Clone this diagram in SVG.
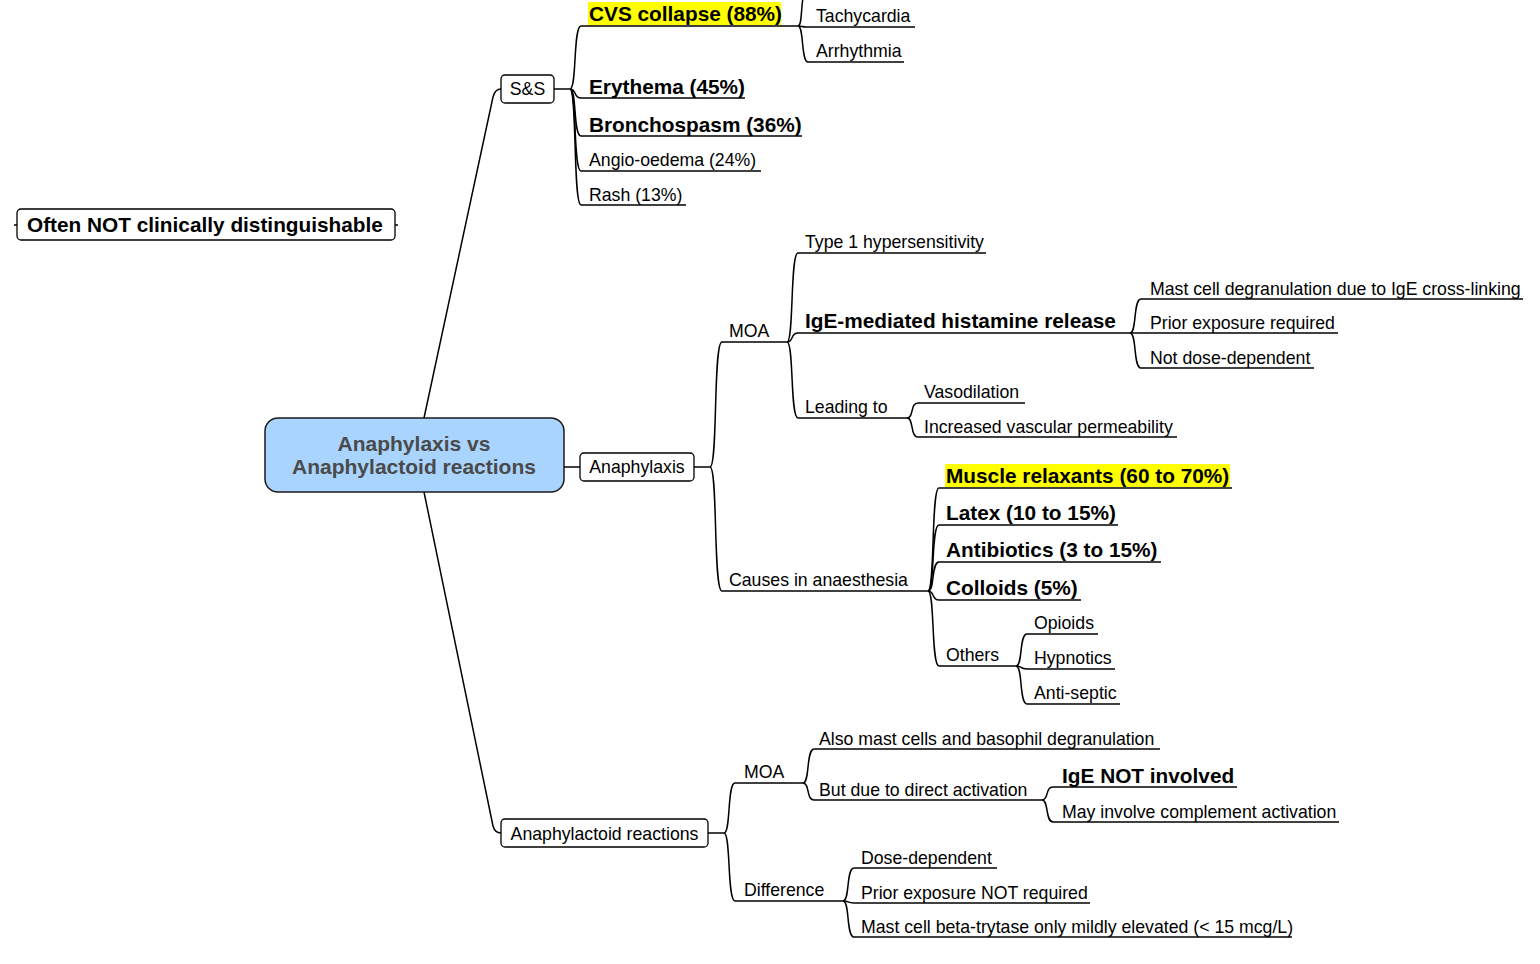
<svg xmlns="http://www.w3.org/2000/svg" width="1540" height="964" viewBox="0 0 1540 964">
<style>
  .n { font-family: "Liberation Sans", Arial, sans-serif; font-size: 17.7px; fill: #000; }
  .b { font-family: "Liberation Sans", Arial, sans-serif; font-size: 20.8px; font-weight: bold; fill: #000; }
  .root { font-family: "Liberation Sans", Arial, sans-serif; font-size: 21px; font-weight: bold; fill: #4a4a4a; text-anchor: middle; }
  .mid { text-anchor: middle; }
  .u { fill: none; stroke: #000; stroke-width: 1.5; }
  .c { fill: none; stroke: #000; stroke-width: 1.5; }
  .box { fill: #fff; stroke: #000; stroke-width: 1.3; }
  .hl { fill: #ffff00; }
</style>
<rect width="1540" height="964" fill="#fff"/>

<g id="connectors">
  <path class="c" d="M424,418 L493,97 Q495,89 501,89"/>
  <path class="c" d="M424,492 L493,826 Q495,833 501,833"/>
  <path class="c" d="M564,467 L580,467"/>
  <path class="c" d="M14,225 L17,225"/>
  <path class="c" d="M395,225 L398,225"/>
  <path class="c" d="M554,89 L570,89"/>
  <path class="c" d="M570,89 C577,89 573,26 581,26"/>
  <path class="c" d="M570,89 C577,89 573,98 581,98"/>
  <path class="c" d="M570,89 C577,89 573,136 581,136"/>
  <path class="c" d="M570,89 C577,89 573,171 581,171"/>
  <path class="c" d="M570,89 C577,89 573,205 581,205"/>
  <path class="c" d="M798,26 C802,26 801,8 803,-2"/>
  <path class="c" d="M798,26 C802,26 802,27 806,27"/>
  <path class="c" d="M798,26 C804,26 801,62 808,62"/>
  <path class="c" d="M694,467 L710,467"/>
  <path class="c" d="M710,467 C718,467 713,342 722,342"/>
  <path class="c" d="M710,467 C718,467 713,591 722,591"/>
  <path class="c" d="M787,342 C794,342 790,253 798,253"/>
  <path class="c" d="M787,342 C794,342 790,333 798,333"/>
  <path class="c" d="M787,342 C794,342 790,418 798,418"/>
  <path class="c" d="M1130,333 C1137,333 1133,299 1141,299"/>
  <path class="c" d="M1130,333 C1137,333 1133,333 1141,333"/>
  <path class="c" d="M1130,333 C1137,333 1133,368 1141,368"/>
  <path class="c" d="M907,418 C914,418 910,403 918,403"/>
  <path class="c" d="M907,418 C914,418 910,437 918,437"/>
  <path class="c" d="M928,591 C935,591 931,488 939,488"/>
  <path class="c" d="M928,591 C935,591 931,525 939,525"/>
  <path class="c" d="M928,591 C935,591 931,562 939,562"/>
  <path class="c" d="M928,591 C935,591 931,600 939,600"/>
  <path class="c" d="M928,591 C935,591 931,666 939,666"/>
  <path class="c" d="M1016,666 C1023,666 1019,634 1027,634"/>
  <path class="c" d="M1016,666 C1023,666 1019,669 1027,669"/>
  <path class="c" d="M1016,666 C1023,666 1019,704 1027,704"/>
  <path class="c" d="M708,833 L724,833"/>
  <path class="c" d="M724,833 C731,833 727,783 735,783"/>
  <path class="c" d="M724,833 C731,833 727,901 735,901"/>
  <path class="c" d="M803,783 C810,783 806,749 814,749"/>
  <path class="c" d="M803,783 C810,783 806,800 814,800"/>
  <path class="c" d="M1042,800 C1049,800 1045,787 1053,787"/>
  <path class="c" d="M1042,800 C1049,800 1045,822 1053,822"/>
  <path class="c" d="M843,901 C850,901 846,868 854,868"/>
  <path class="c" d="M843,901 C850,901 846,903 854,903"/>
  <path class="c" d="M843,901 C850,901 846,937 854,937"/>
</g>

<g id="root">
  <rect x="265" y="418" width="299" height="74" rx="13" fill="#a8d4fd" stroke="#1a1a1a" stroke-width="1.5"/>
  <text class="root" x="414" y="451">Anaphylaxis vs</text>
  <text class="root" x="414" y="474">Anaphylactoid reactions</text>
</g>

<g id="often-not">
  <rect class="box" x="17" y="209" width="378" height="31" rx="4"/>
  <text class="b" x="27" y="232">Often NOT clinically distinguishable</text>
</g>

<g id="ss">
  <rect class="box" x="501" y="75" width="53" height="28" rx="4"/>
  <text class="n mid" x="527.5" y="95">S&amp;S</text>
</g>
<g id="cvs">
  <rect class="hl" x="588" y="2" width="193" height="23"/>
  <path class="u" d="M581,26 L798,26"/>
  <text class="b" x="589" y="21">CVS collapse (88%)</text>
</g>
<g id="tachycardia">
  <path class="u" d="M806,27 L915,27"/>
  <text class="n" x="816" y="22">Tachycardia</text>
</g>
<g id="arrhythmia">
  <path class="u" d="M808,62 L904,62"/>
  <text class="n" x="816" y="57">Arrhythmia</text>
</g>
<g id="erythema">
  <path class="u" d="M581,98 L745,98"/>
  <text class="b" x="589" y="94">Erythema (45%)</text>
</g>
<g id="bronchospasm">
  <path class="u" d="M581,136 L802,136"/>
  <text class="b" x="589" y="132">Bronchospasm (36%)</text>
</g>
<g id="angio">
  <path class="u" d="M581,171 L761,171"/>
  <text class="n" x="589" y="166">Angio-oedema (24%)</text>
</g>
<g id="rash">
  <path class="u" d="M581,205 L686,205"/>
  <text class="n" x="589" y="201">Rash (13%)</text>
</g>

<g id="anaphylaxis">
  <rect class="box" x="580" y="453" width="114" height="28" rx="4"/>
  <text class="n mid" x="637" y="473">Anaphylaxis</text>
</g>
<g id="moa1">
  <path class="u" d="M722,342 L787,342"/>
  <text class="n" x="729" y="337">MOA</text>
</g>
<g id="type1">
  <path class="u" d="M798,253 L986,253"/>
  <text class="n" x="805" y="248">Type 1 hypersensitivity</text>
</g>
<g id="ige-mediated">
  <path class="u" d="M798,333 L1130,333"/>
  <text class="b" x="805" y="328">IgE-mediated histamine release</text>
</g>
<g id="mast-degran">
  <path class="u" d="M1141,299 L1523,299"/>
  <text class="n" x="1150" y="295">Mast cell degranulation due to IgE cross-linking</text>
</g>
<g id="prior-req">
  <path class="u" d="M1141,333 L1338,333"/>
  <text class="n" x="1150" y="329">Prior exposure required</text>
</g>
<g id="not-dose">
  <path class="u" d="M1141,368 L1314,368"/>
  <text class="n" x="1150" y="364">Not dose-dependent</text>
</g>
<g id="leading-to">
  <path class="u" d="M798,418 L907,418"/>
  <text class="n" x="805" y="413">Leading to</text>
</g>
<g id="vasodilation">
  <path class="u" d="M918,403 L1025,403"/>
  <text class="n" x="924" y="398">Vasodilation</text>
</g>
<g id="permeability">
  <path class="u" d="M918,437 L1177,437"/>
  <text class="n" x="924" y="433">Increased vascular permeability</text>
</g>
<g id="causes">
  <path class="u" d="M722,591 L928,591"/>
  <text class="n" x="729" y="586">Causes in anaesthesia</text>
</g>
<g id="muscle-relaxants">
  <rect class="hl" x="945" y="464" width="285" height="23"/>
  <path class="u" d="M939,488 L1232,488"/>
  <text class="b" x="946" y="483">Muscle relaxants (60 to 70%)</text>
</g>
<g id="latex">
  <path class="u" d="M939,525 L1118,525"/>
  <text class="b" x="946" y="520">Latex (10 to 15%)</text>
</g>
<g id="antibiotics">
  <path class="u" d="M939,562 L1161,562"/>
  <text class="b" x="946" y="557">Antibiotics (3 to 15%)</text>
</g>
<g id="colloids">
  <path class="u" d="M939,600 L1081,600"/>
  <text class="b" x="946" y="595">Colloids (5%)</text>
</g>
<g id="others">
  <path class="u" d="M939,666 L1016,666"/>
  <text class="n" x="946" y="661">Others</text>
</g>
<g id="opioids">
  <path class="u" d="M1027,634 L1098,634"/>
  <text class="n" x="1034" y="629">Opioids</text>
</g>
<g id="hypnotics">
  <path class="u" d="M1027,669 L1115,669"/>
  <text class="n" x="1034" y="664">Hypnotics</text>
</g>
<g id="antiseptic">
  <path class="u" d="M1027,704 L1120,704"/>
  <text class="n" x="1034" y="699">Anti-septic</text>
</g>

<g id="anaphylactoid">
  <rect class="box" x="501" y="819" width="207" height="28" rx="4"/>
  <text class="n mid" x="604.5" y="840">Anaphylactoid reactions</text>
</g>
<g id="moa2">
  <path class="u" d="M735,783 L803,783"/>
  <text class="n" x="744" y="778">MOA</text>
</g>
<g id="also-mast">
  <path class="u" d="M814,749 L1160,749"/>
  <text class="n" x="819" y="745">Also mast cells and basophil degranulation</text>
</g>
<g id="but-due">
  <path class="u" d="M814,800 L1042,800"/>
  <text class="n" x="819" y="796">But due to direct activation</text>
</g>
<g id="ige-not">
  <path class="u" d="M1053,787 L1237,787"/>
  <text class="b" x="1062" y="783">IgE NOT involved</text>
</g>
<g id="complement">
  <path class="u" d="M1053,822 L1339,822"/>
  <text class="n" x="1062" y="818">May involve complement activation</text>
</g>
<g id="difference">
  <path class="u" d="M735,901 L843,901"/>
  <text class="n" x="744" y="896">Difference</text>
</g>
<g id="dose-dep">
  <path class="u" d="M854,868 L997,868"/>
  <text class="n" x="861" y="864">Dose-dependent</text>
</g>
<g id="prior-not">
  <path class="u" d="M854,903 L1090,903"/>
  <text class="n" x="861" y="899">Prior exposure NOT required</text>
</g>
<g id="tryptase">
  <path class="u" d="M854,937 L1292,937"/>
  <text class="n" x="861" y="933">Mast cell beta-trytase only mildly elevated (&lt; 15 mcg/L)</text>
</g>
</svg>
